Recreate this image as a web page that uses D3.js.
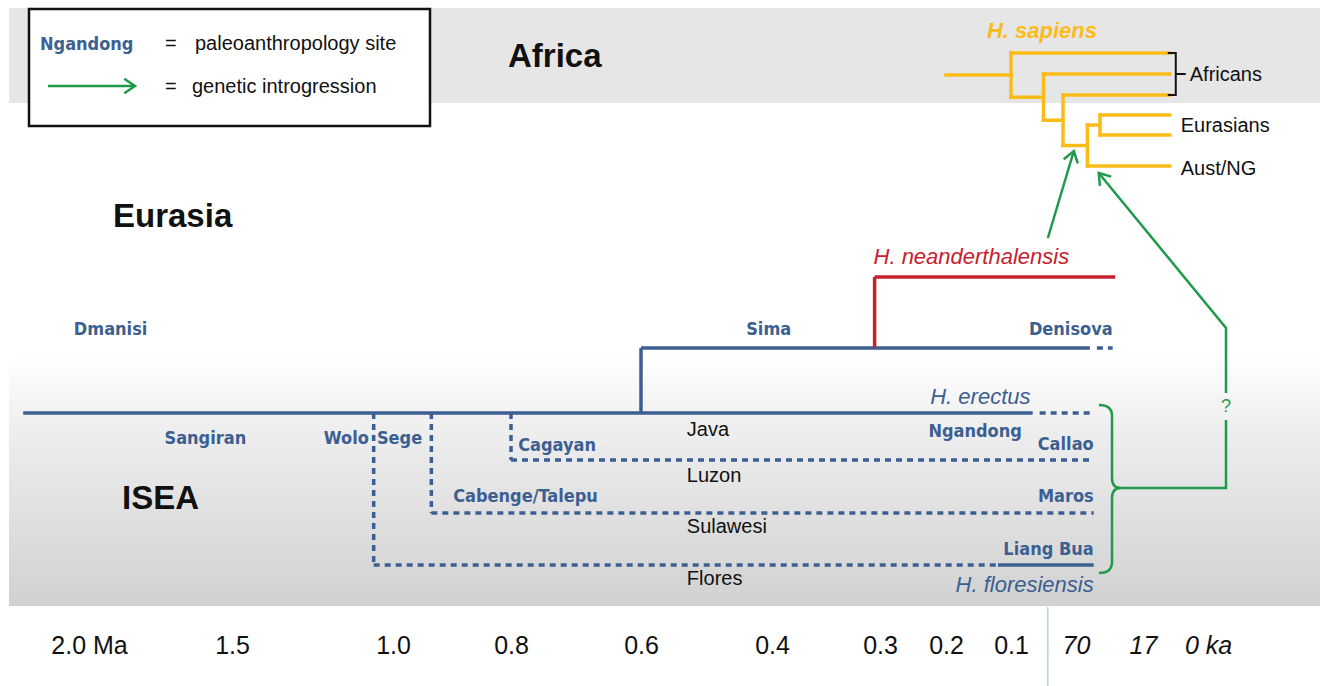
<!DOCTYPE html>
<html>
<head>
<meta charset="utf-8">
<style>
body{margin:0;background:#fff;}
svg{display:block;}
.site{font-family:'DejaVu Sans Condensed','DejaVu Sans',sans-serif;font-stretch:condensed;font-weight:bold;font-size:18px;fill:#3c5f92;}
.plain{font-family:'Liberation Sans',Arial,sans-serif;font-size:20px;fill:#111;}
.region{font-family:'Liberation Sans',Arial,sans-serif;font-size:33px;font-weight:bold;fill:#111;}
.taxon{font-family:'Liberation Sans',Arial,sans-serif;font-size:22px;font-style:italic;}
</style>
</head>
<body>
<svg id="chart" width="1320" height="686"></svg>
<script src="https://cdnjs.cloudflare.com/ajax/libs/d3/7.8.5/d3.min.js"></script>
<script>
// time axis (ka), non linear
var ticksKa = [2000,1500,1000,800,600,400,300,200,100,70,17,0];
var tickLabels = ["2.0 Ma","1.5","1.0","0.8","0.6","0.4","0.3","0.2","0.1","70","17","0 ka"];

// archaic lineages
var lineLane   = ["erectus","denisova","neanderthal","luzon","sulawesi","flores"];
var lineParent = [null,"erectus","denisova","erectus","erectus","erectus"];
var lineSplit  = [2230,600,305,800,935,1060];
var lineSolid  = [[2230,90],[600,59],[305,39],null,null,[120,56]];
var lineDotted = [[90,56],[59,41],null,[800,56],[935,56],[1060,120]];

// H. sapiens tree
var sapId     = ["stem","n1","afr1","n2","afr2","n3","afr3","n4","n5","eur1","eur2","aus"];
var sapParent = ["","stem","n1","n1","n2","n2","n3","n3","n4","n5","n5","n4"];
var sapAge    = [200,100,10,85,10,76,10,61,51,10,10,10];
var sapTips   = ["afr1","afr2","afr3","eur1","eur2","aus"];

// site / region labels: text, age (ka) of anchor, lane
var siteText   = ["Dmanisi","Sima","Denisova","Sangiran","Wolo","Sege","Cagayan","Cabenge/Talepu","Ngandong","Callao","Maros","Liang Bua"];
var siteAge    = [2053,405,41,1736,1075,1050,789,898,95,56,56,56];
var siteLane   = ["denisova","denisova","denisova","erectus","erectus","erectus","luzon","sulawesi","erectus","luzon","sulawesi","flores"];
var islandText = ["Java","Luzon","Sulawesi","Flores"];
var islandLane = ["erectus","luzon","sulawesi","flores"];

var blue = "#3c5f92", red = "#c8202e", gold = "#fbbc18", green = "#1f9a4a", navy = "#22347a";

var svg = d3.select("#chart");

var x = d3.scaleLinear().domain(ticksKa)
  .range([89,232,393,511,641,772,880,946,1011,1076,1143,1208]);
var y = d3.scaleOrdinal().domain(["neanderthal","denisova","erectus","luzon","sulawesi","flores"])
  .range([277,348,413,460,513,565]);
var tipY = d3.scaleOrdinal().domain(sapTips).range([53,74,95,115,135,166]);

// backgrounds
var defs = svg.append("defs");
var grad = defs.append("linearGradient").attr("id","isea").attr("x1",0).attr("x2",0).attr("y1",0).attr("y2",1);
grad.append("stop").attr("offset",0).attr("stop-color","#ffffff");
grad.append("stop").attr("offset",0.3).attr("stop-color","#eeeeee");
grad.append("stop").attr("offset",1).attr("stop-color","#d1d1d1");
svg.append("rect").attr("x",9).attr("y",8).attr("width",1311).attr("height",95).attr("fill","#e6e6e6");
svg.append("rect").attr("x",9).attr("y",355).attr("width",1311).attr("height",251).attr("fill","url(#isea)");

// axis
var axis = d3.axisBottom(x).tickValues(ticksKa).tickSize(0).tickPadding(0)
  .tickFormat(function(d,i){return tickLabels[i];});
var ax = svg.append("g").attr("transform","translate(0,636)").call(axis);
ax.select(".domain").remove();
ax.selectAll("text").attr("font-family","'Liberation Sans',Arial,sans-serif")
  .attr("font-size",25).attr("fill","#111").attr("dy","0.71em")
  .attr("font-style",function(d){return d < 100 ? "italic" : "normal";});
svg.append("line").attr("x1",x(83)).attr("x2",x(83)).attr("y1",607).attr("y2",686)
  .attr("stroke","#a9c3df").attr("stroke-width",1.2);

// region names
svg.append("text").attr("class","region").attr("x",508).attr("y",67).text("Africa");
svg.append("text").attr("class","region").attr("x",113).attr("y",227).text("Eurasia");
svg.append("text").attr("class","region").attr("x",122).attr("y",509).text("ISEA");

// lineages
var lines = svg.append("g").attr("fill","none").attr("stroke-width",3.5);
lineLane.forEach(function(lane,i){
  var col = lane === "neanderthal" ? red : blue;
  var yy = y(lane);
  var firstDotted = lineSolid[i] === null || lineSolid[i][0] !== lineSplit[i];
  if(lineParent[i]){
    lines.append("line").attr("x1",x(lineSplit[i])).attr("x2",x(lineSplit[i]))
      .attr("y1",y(lineParent[i])).attr("y2",yy).attr("stroke",col)
      .attr("stroke-dasharray",firstDotted ? "6,5" : null);
  }
  if(lineSolid[i]){
    lines.append("line").attr("x1",x(lineSolid[i][0])).attr("x2",x(lineSolid[i][1]))
      .attr("y1",yy).attr("y2",yy).attr("stroke",col);
  }
  if(lineDotted[i]){
    lines.append("line").attr("x1",x(lineDotted[i][0]) + (lineSolid[i] && lineSolid[i][1]===lineDotted[i][0] ? 7 : 0))
      .attr("x2",x(lineDotted[i][1])).attr("y1",yy).attr("y2",yy).attr("stroke",col)
      .attr("stroke-dasharray","6,5");
  }
});

// site labels
var siteDy = [-20,-20,-20,24,24,24,-16,-18,17,-17,-18,-17];
var siteAnchor = ["start","middle","end","start","end","start","start","start","end","end","end","end"];
svg.selectAll("text.site").data(siteText).enter().append("text").attr("class","site")
  .attr("x",function(d,i){return x(siteAge[i]);})
  .attr("y",function(d,i){return y(siteLane[i]) + siteDy[i];})
  .attr("dominant-baseline","central")
  .attr("text-anchor",function(d,i){return siteAnchor[i];})
  .text(function(d){return d;});
var islandDy = [16,15,13,13];
svg.selectAll("text.island").data(islandText).enter().append("text").attr("class","plain island")
  .attr("x",x(530)).attr("y",function(d,i){return y(islandLane[i]) + islandDy[i];})
  .attr("dominant-baseline","central").text(function(d){return d;});

// taxon names
svg.append("text").attr("class","taxon").attr("fill",blue).attr("x",x(91)).attr("y",y("erectus")-17)
  .attr("text-anchor","end").attr("dominant-baseline","central").text("H. erectus");
svg.append("text").attr("class","taxon").attr("fill",blue).attr("x",x(56)).attr("y",y("flores")+19)
  .attr("text-anchor","end").attr("dominant-baseline","central").text("H. floresiensis");
svg.append("text").attr("class","taxon").attr("fill",red).attr("x",x(306)).attr("y",y("neanderthal")-21)
  .attr("dominant-baseline","central").text("H. neanderthalensis");
svg.append("text").attr("class","taxon").attr("fill",gold).attr("font-weight","bold").attr("x",x(137)).attr("y",30)
  .attr("dominant-baseline","central").text("H. sapiens");

// H. sapiens tree
var root = d3.stratify().id(function(d,i){return sapId[i];}).parentId(function(d,i){return sapParent[i] || null;})(sapId);
root.eachAfter(function(n){
  var i = sapId.indexOf(n.id);
  n.age = sapAge[i];
  if(!n.children) n.yy = tipY(n.id);
  else n.yy = (n.children[0].yy + n.children[n.children.length-1].yy) / 2;
});
var tree = svg.append("g").attr("fill","none").attr("stroke",gold).attr("stroke-width",3.5).attr("stroke-linecap","square");
root.descendants().forEach(function(n){
  if(n.parent){
    tree.append("line").attr("x1",x(n.parent.age)).attr("x2",x(n.age)).attr("y1",n.yy).attr("y2",n.yy);
  }
  if(n.children && n.children.length > 1){
    tree.append("line").attr("x1",x(n.age)).attr("x2",x(n.age))
      .attr("y1",n.children[0].yy).attr("y2",n.children[n.children.length-1].yy);
  }
});
var tx = x(10);
svg.append("path").attr("fill","none").attr("stroke","#111").attr("stroke-width",2)
  .attr("d","M"+(tx-2)+","+tipY("afr1")+" H"+(tx+6)+" V"+tipY("afr3")+" H"+(tx-2)+" M"+(tx+6)+","+tipY("afr2")+" H"+(tx+16));
svg.append("text").attr("class","plain").attr("font-size",21).attr("x",tx+20).attr("y",tipY("afr2")).attr("dominant-baseline","central").text("Africans");
svg.append("text").attr("class","plain").attr("font-size",21).attr("x",tx+11).attr("y",(tipY("eur1")+tipY("eur2"))/2).attr("dominant-baseline","central").text("Eurasians");
svg.append("text").attr("class","plain").attr("font-size",21).attr("x",tx+11).attr("y",tipY("aus")+2).attr("dominant-baseline","central").text("Aust/NG");

// introgression arrows
var g = svg.append("g").attr("fill","none").attr("stroke",green).attr("stroke-width",2.5);
function chevron(grp,x1,y1,x2,y2){
  var a = Math.atan2(y2-y1,x2-x1), L = 13, s = 0.6;
  grp.append("path").attr("d","M"+(x2-L*Math.cos(a-s))+","+(y2-L*Math.sin(a-s))+" L"+x2+","+y2+" L"+(x2-L*Math.cos(a+s))+","+(y2-L*Math.sin(a+s)));
}
g.append("line").attr("x1",x(83)).attr("y1",238).attr("x2",x(71)).attr("y2",151);
chevron(g,x(83),238,x(71),151);
var bx = x(0)+18;
g.append("path").attr("d","M"+bx+",393 V328 L"+x(52)+",173");
chevron(g,bx,328,x(52),173);
g.append("path").attr("d","M"+bx+",420 V488 H1121");
svg.append("text").attr("x",bx).attr("y",406).attr("text-anchor","middle").attr("dominant-baseline","central")
  .attr("font-family","'Liberation Sans',Arial,sans-serif").attr("font-size",18).attr("fill",green).text("?");
g.append("path").attr("d","M1099,405 Q1112,405 1112,416 L1112,478 Q1112,488 1121,488 Q1112,488 1112,498 L1112,562 Q1112,573 1099,573");

// legend
var lg = svg.append("g");
lg.append("rect").attr("x",29).attr("y",9).attr("width",401).attr("height",117).attr("fill","#fff").attr("stroke","#111").attr("stroke-width",2.5);
lg.append("text").attr("class","site").attr("font-size",19).attr("x",40).attr("y",43).attr("dominant-baseline","central").text("Ngandong");
lg.append("text").attr("class","plain").attr("fill",navy).attr("x",165).attr("y",43).attr("dominant-baseline","central").text("=");
lg.append("text").attr("class","plain").attr("fill",navy).attr("x",195).attr("y",43).attr("dominant-baseline","central").text("paleoanthropology site");
var la = lg.append("g").attr("fill","none").attr("stroke",green).attr("stroke-width",2.5);
la.append("line").attr("x1",48).attr("y1",86).attr("x2",135).attr("y2",86);
chevron(la,48,86,135,86);
lg.append("text").attr("class","plain").attr("fill",navy).attr("x",165).attr("y",86).attr("dominant-baseline","central").text("=");
lg.append("text").attr("class","plain").attr("fill",navy).attr("x",192).attr("y",86).attr("dominant-baseline","central").text("genetic introgression");
</script>
</body>
</html>
